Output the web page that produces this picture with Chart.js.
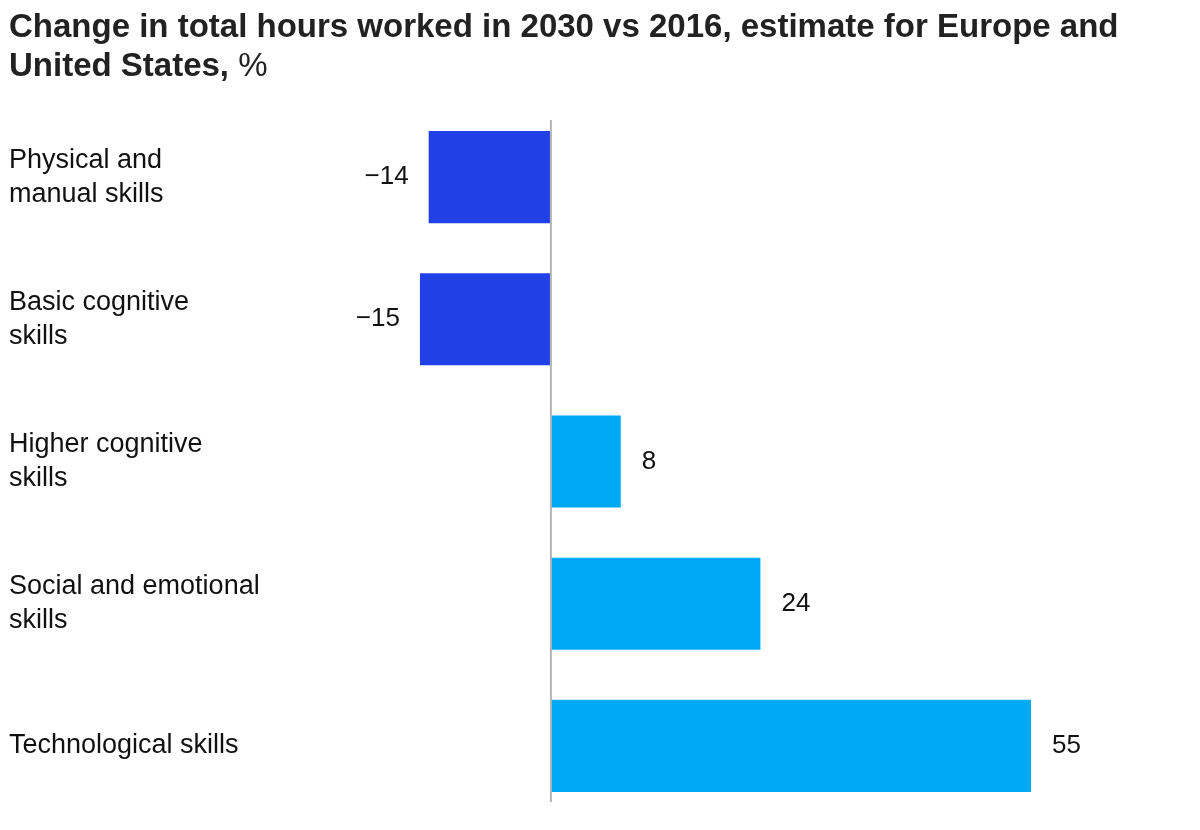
<!DOCTYPE html>
<html>
<head>
<meta charset="utf-8">
<script src="https://cdn.jsdelivr.net/npm/chart.js@4.4.0/dist/chart.umd.min.js"></script>
<style>
  html, body { margin: 0; padding: 0; background: #fff; }
  #wrap { position: relative; width: 1200px; height: 830px; }
  #title {
    position: absolute; left: 9px; top: 6px; width: 1185px;
    font-family: "Liberation Sans", Arial, sans-serif; font-weight: bold;
    font-size: 33px; line-height: 39px; color: #222;
  }
  #title span { font-weight: normal; }
  canvas { position: absolute; left: 0; top: 0; }
</style>
</head>
<body>
<div id="wrap">
  <canvas id="myChart" width="1200" height="830"></canvas>
  <div id="title">Change in total hours worked in 2030 vs 2016, estimate for Europe and United States, <span>%</span></div>
</div>
<script>
    /* Data */

var categories = [
  ["Physical and", "manual skills"],
  ["Basic cognitive", "skills"],
  ["Higher cognitive", "skills"],
  ["Social and emotional", "skills"],
  "Technological skills"
];
var values = [-14, -15, 8, 24, 55];

var darkBlue = "#2140e6";
var lightBlue = "#00a9f4";

    /* Zero line and value labels */

const zeroLine = {
  id: 'zeroLine',
  afterDatasetsDraw(chart) {
    const ctx = chart.ctx;
    const x = chart.scales.x.getPixelForValue(0);
    ctx.save();
    ctx.strokeStyle = "#b4b4b4";
    ctx.lineWidth = 2;
    ctx.beginPath();
    ctx.moveTo(x, chart.chartArea.top + 14);
    ctx.lineTo(x, chart.chartArea.bottom - 15);
    ctx.stroke();
    ctx.restore();
  }
};

const valueLabels = {
  id: 'valueLabels',
  afterDatasetsDraw(chart) {
    const ctx = chart.ctx;
    const meta = chart.getDatasetMeta(0);
    ctx.save();
    ctx.font = '26px "Liberation Sans", Arial, sans-serif';
    ctx.fillStyle = "#111";
    ctx.textBaseline = "middle";
    meta.data.forEach(function (bar, i) {
      const v = values[i];
      if (v < 0) {
        ctx.textAlign = "right";
        ctx.fillText("\u2212" + Math.abs(v), bar.x - 20, bar.y);
      } else {
        ctx.textAlign = "left";
        ctx.fillText(String(v), bar.x + 21, bar.y);
      }
    });
    ctx.restore();
  }
};

    /* Chart */

const ctx = document.getElementById('myChart').getContext('2d');

const myChart = new Chart(ctx, {
  type: 'bar',
  data: {
    labels: categories,
    datasets: [{
      data: values,
      backgroundColor: values.map(v => v < 0 ? darkBlue : lightBlue),
      borderWidth: 0,
      barPercentage: 1,
      categoryPercentage: 0.648
    }]
  },
  options: {
    indexAxis: 'y',
    responsive: false,
    animation: false,
    layout: { padding: { left: 9, right: 38, top: 106, bottom: 13 } },
    plugins: {
      legend: { display: false },
      tooltip: { enabled: false }
    },
    scales: {
      x: {
        min: -30,
        max: 70,
        display: false
      },
      y: {
        grid: { display: false },
        border: { display: false },
        ticks: {
          crossAlign: 'far',
          color: "#111",
          font: { family: '"Liberation Sans", Arial, sans-serif', size: 27, lineHeight: 1.26 }
        },
        afterFit(scale) {
          scale.width = 280;
          scale.paddingTop = 0;
          scale.paddingBottom = 0;
        }
      }
    }
  },
  plugins: [zeroLine, valueLabels]
});
</script>
</body>
</html>
